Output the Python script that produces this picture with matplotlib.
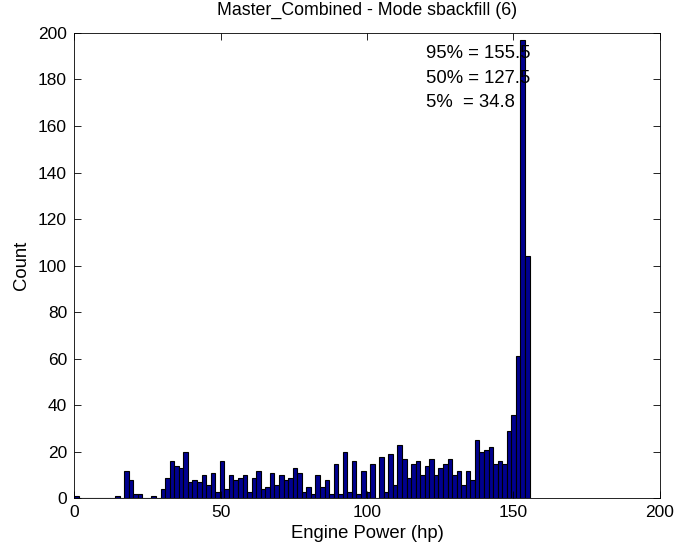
import numpy as np
import matplotlib
matplotlib.use('Agg')
import matplotlib.pyplot as plt

# Conteos por intervalo (100 intervalos entre 0 y 155.5 hp)
conteos = [1, 0, 0, 0, 0, 0, 0, 0, 0, 1,
           0, 12, 8, 2, 2, 0, 0, 1, 0, 4,
           9, 16, 14, 13, 20, 7, 8, 7, 10, 6,
           11, 3, 16, 4, 10, 8, 9, 10, 3, 9,
           12, 4, 5, 11, 6, 10, 8, 9, 13, 11,
           3, 5, 2, 10, 5, 8, 2, 15, 2, 20,
           3, 16, 2, 12, 3, 15, 0, 18, 3, 19,
           6, 23, 17, 9, 15, 16, 10, 14, 17, 10,
           13, 15, 17, 10, 12, 6, 12, 8, 25, 20,
           21, 22, 15, 16, 15, 29, 36, 61, 197, 104]
potencia_min = 0.0
potencia_max = 155.5
percentiles = ['95% = 155.5', '50% = 127.5', '5%  = 34.8']
titulo = 'Master_Combined - Mode sbackfill (6)'


def main():
    plt.rcParams['font.family'] = ['Liberation Sans', 'DejaVu Sans']
    plt.rcParams['font.size'] = 13

    bordes = np.linspace(potencia_min, potencia_max, len(conteos) + 1)

    fig = plt.figure(figsize=(6.84, 5.54), dpi=100)
    ax = fig.add_axes([0.1082, 0.1002, 0.8567, 0.8404])

    ax.bar(bordes[:-1], conteos, width=np.diff(bordes), align='edge',
           color='#00008f', edgecolor='black', linewidth=0.8)

    # Texto con los percentiles
    for i, t in enumerate(percentiles):
        ax.text(120.3, 191 - i * 10.5, t, va='center', ha='left', fontsize=13.3)

    ax.set_xlim(0, 200)
    ax.set_ylim(0, 200)
    ax.set_xticks(np.arange(0, 201, 50))
    ax.set_yticks(np.arange(0, 201, 20))
    ax.tick_params(direction='in', top=True, right=True, length=5, width=0.6,
                   labelsize=12.5, pad=5)
    for s in ax.spines.values():
        s.set_linewidth(0.6)
    ax.set_xlabel('Engine Power (hp)', fontsize=13.3, labelpad=3)
    ax.set_ylabel('Count', fontsize=13.3, labelpad=6)
    ax.set_title(titulo, fontsize=12.8, pad=13)

    fig.savefig('out.png', dpi=100)


if __name__ == "__main__":
    main()
